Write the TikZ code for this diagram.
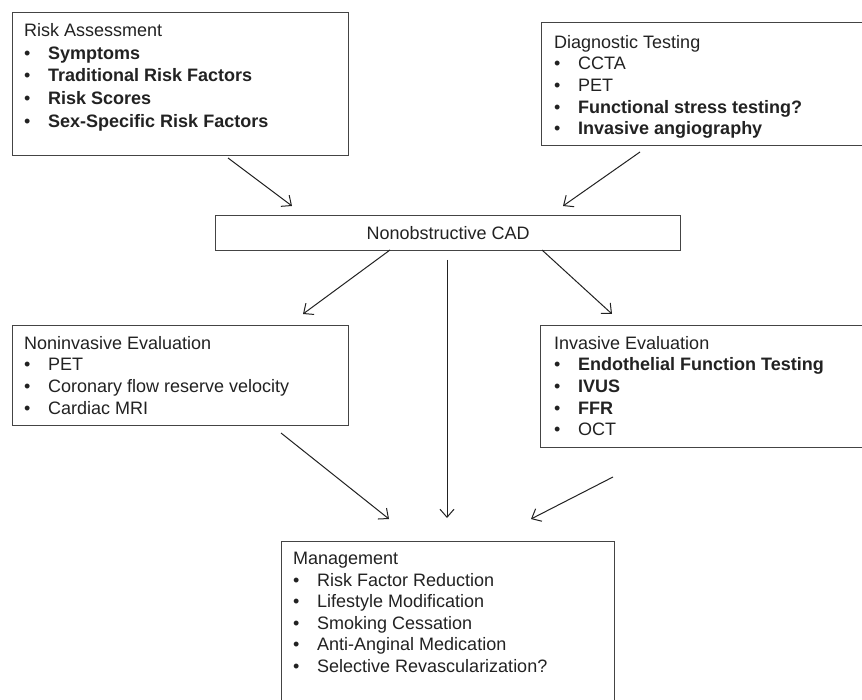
\documentclass[tikz,border=0pt]{standalone}
\usepackage{fontspec}
\setmainfont{Liberation Sans}
\usetikzlibrary{arrows.meta}
\definecolor{boxgray}{HTML}{444444}
\definecolor{arrowgray}{HTML}{222222}
\definecolor{textgray}{HTML}{222222}
\newcommand\myitem[1]{\makebox[24pt][l]{•}#1}
\begin{document}
\begin{tikzpicture}[x=1pt,y=-1pt,
  box/.style={draw=boxgray, line width=1.4pt, inner sep=0, anchor=north west},
  txt/.style={inner sep=0, anchor=north west, align=left, text=textgray, font=\fontsize{18}{21.6}\selectfont},
  conn/.style={draw=arrowgray, line width=1pt, -{Straight Barb[length=8pt,width=14pt,line width=1pt]}}]
\clip (0,0) rectangle (862,700);
\fill[white] (0,0) rectangle (862,700);
% boxes
\node[box, minimum width=336pt, minimum height=143pt] (ra) at (12,12) {};
\node[box, minimum width=329pt, minimum height=123pt] (dt) at (541,22) {};
\node[box, minimum width=465pt, minimum height=35pt, text=textgray, font=\fontsize{18}{21.6}\selectfont] (cad) at (215,215) {Nonobstructive CAD};
\node[box, minimum width=336pt, minimum height=100pt] (ni) at (12,325) {};
\node[box, minimum width=330pt, minimum height=122pt] (ie) at (540,325) {};
\node[box, minimum width=333pt, minimum height=169pt] (mg) at (281,541) {};
% texts
\node[txt, font=\fontsize{18}{22.8}\selectfont] (ratx) at (24,23) {Risk Assessment\\
 \myitem{\textbf{Symptoms}}\\
 \myitem{\textbf{Traditional Risk Factors}}\\
 \myitem{\textbf{Risk Scores}}\\
 \myitem{\textbf{Sex-Specific Risk Factors}}};
\node[txt] (dttx) at (554,35) {Diagnostic Testing\\
 \myitem{CCTA}\\
 \myitem{PET}\\
 \myitem{\textbf{Functional stress testing?}}\\
 \myitem{\textbf{Invasive angiography}}};
\node[txt] (nitx) at (24,336) {Noninvasive Evaluation\\
 \myitem{PET}\\
 \myitem{Coronary flow reserve velocity}\\
 \myitem{Cardiac MRI}};
\node[txt] (ietx) at (554,336) {Invasive Evaluation\\
 \myitem{\textbf{Endothelial Function Testing}}\\
 \myitem{\textbf{IVUS}}\\
 \myitem{\textbf{FFR}}\\
 \myitem{OCT}};
\node[txt] (mgtx) at (293,552) {Management\\
 \myitem{Risk Factor Reduction}\\
 \myitem{Lifestyle Modification}\\
 \myitem{Smoking Cessation}\\
 \myitem{Anti-Anginal Medication}\\
 \myitem{Selective Revascularization?}};
% connector ends
\coordinate (a1s) at (228,158);
\coordinate (a1e) at (292,206);
\coordinate (a2s) at (640,152);
\coordinate (a2e) at (563,206);
\coordinate (a3s) at (390,250);
\coordinate (a3e) at (303,314);
\coordinate (a4s) at (447,260);
\coordinate (a4e) at (447,518);
\coordinate (a5s) at (542,250);
\coordinate (a5e) at (612,314);
\coordinate (a6s) at (281,433);
\coordinate (a6e) at (389,519);
\coordinate (a7s) at (613,477);
\coordinate (a7e) at (531,519);
\draw[conn] (a1s) -- (a1e);
\draw[conn] (a2s) -- (a2e);
\draw[conn] (a3s) -- (a3e);
\draw[conn] (a4s) -- (a4e);
\draw[conn] (a5s) -- (a5e);
\draw[conn] (a6s) -- (a6e);
\draw[conn] (a7s) -- (a7e);
\end{tikzpicture}
\end{document}
